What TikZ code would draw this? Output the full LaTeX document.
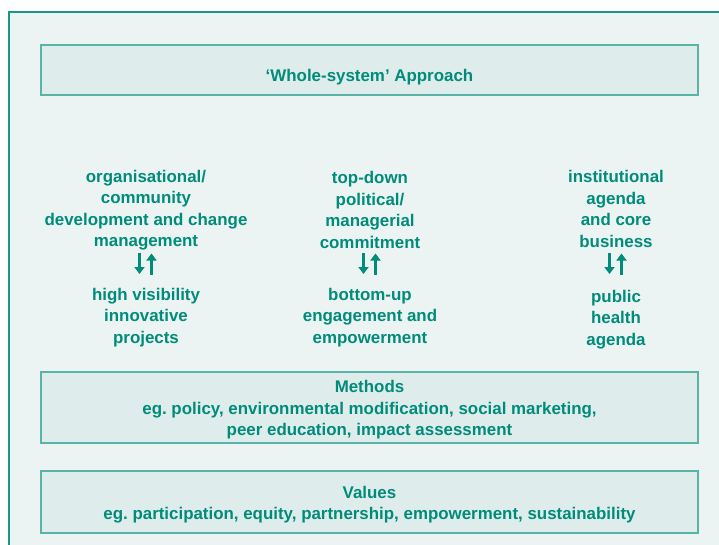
\documentclass[tikz,border=0pt]{standalone}
\usepackage{fontspec}
\setmainfont{Liberation Sans}
\usetikzlibrary{arrows.meta}
\frenchspacing
\definecolor{tealtxt}{RGB}{0,139,122}
\definecolor{outerline}{RGB}{22,153,136}
\definecolor{outerfill}{RGB}{235,244,243}
\definecolor{boxline}{RGB}{88,180,167}
\definecolor{boxfill}{RGB}{222,236,235}
\begin{document}
\begin{tikzpicture}[x=1pt,y=-1pt,
  txt/.style={text=tealtxt,font=\fontsize{16.9}{21.4}\selectfont\bfseries,align=center,inner sep=0pt},
  panel/.style={draw=boxline,fill=boxfill,line width=1.2pt},
  swap/.style={draw=tealtxt,line width=2.4pt,-{Triangle[width=10pt,length=7pt]}}]
\useasboundingbox (0,0) rectangle (719,544);
\fill[white] (0,0) rectangle (719,544);
\draw[outerline,fill=outerfill,line width=1.6pt] (9,12) rectangle (740,570);
% boxes
\draw[panel] (41,45) rectangle (698,95);
\node[txt] (whole) at (369.5,77) {‘Whole-system’ Approach};
\draw[panel] (41,372) rectangle (698,443);
\node[txt] (methods) at (369.5,410) {Methods\\eg. policy, environmental modification, social marketing,\\peer education, impact assessment};
\draw[panel] (41,471) rectangle (698,533);
\node[txt] (values) at (369.5,504.5) {Values\\eg. participation, equity, partnership, empowerment, sustainability};
% columns
\node[txt] (lt) at (146,210) {organisational/\\community\\development and change\\management};
\node[txt] (lb) at (146,317.5) {high visibility\\innovative\\projects};
\node[txt] (mt) at (370,210) {top-down\\political/\\managerial\\commitment};
\node[txt] (mb) at (370,317.5) {bottom-up\\engagement and\\empowerment};
\node[txt] (rt) at (616,209) {institutional\\agenda\\and core\\business};
\node[txt] (rb) at (616,319.5) {public\\health\\agenda};
% arrows
\foreach \c/\n in {146/l,370/m,616/r}{
  \coordinate (\n d1) at (\c-6.5,253);
  \coordinate (\n d2) at (\c-6.5,274);
  \coordinate (\n u1) at (\c+5.5,275);
  \coordinate (\n u2) at (\c+5.5,253.5);
  \draw[swap] (\n d1) -- (\n d2);
  \draw[swap] (\n u1) -- (\n u2);
}
\end{tikzpicture}
\end{document}
